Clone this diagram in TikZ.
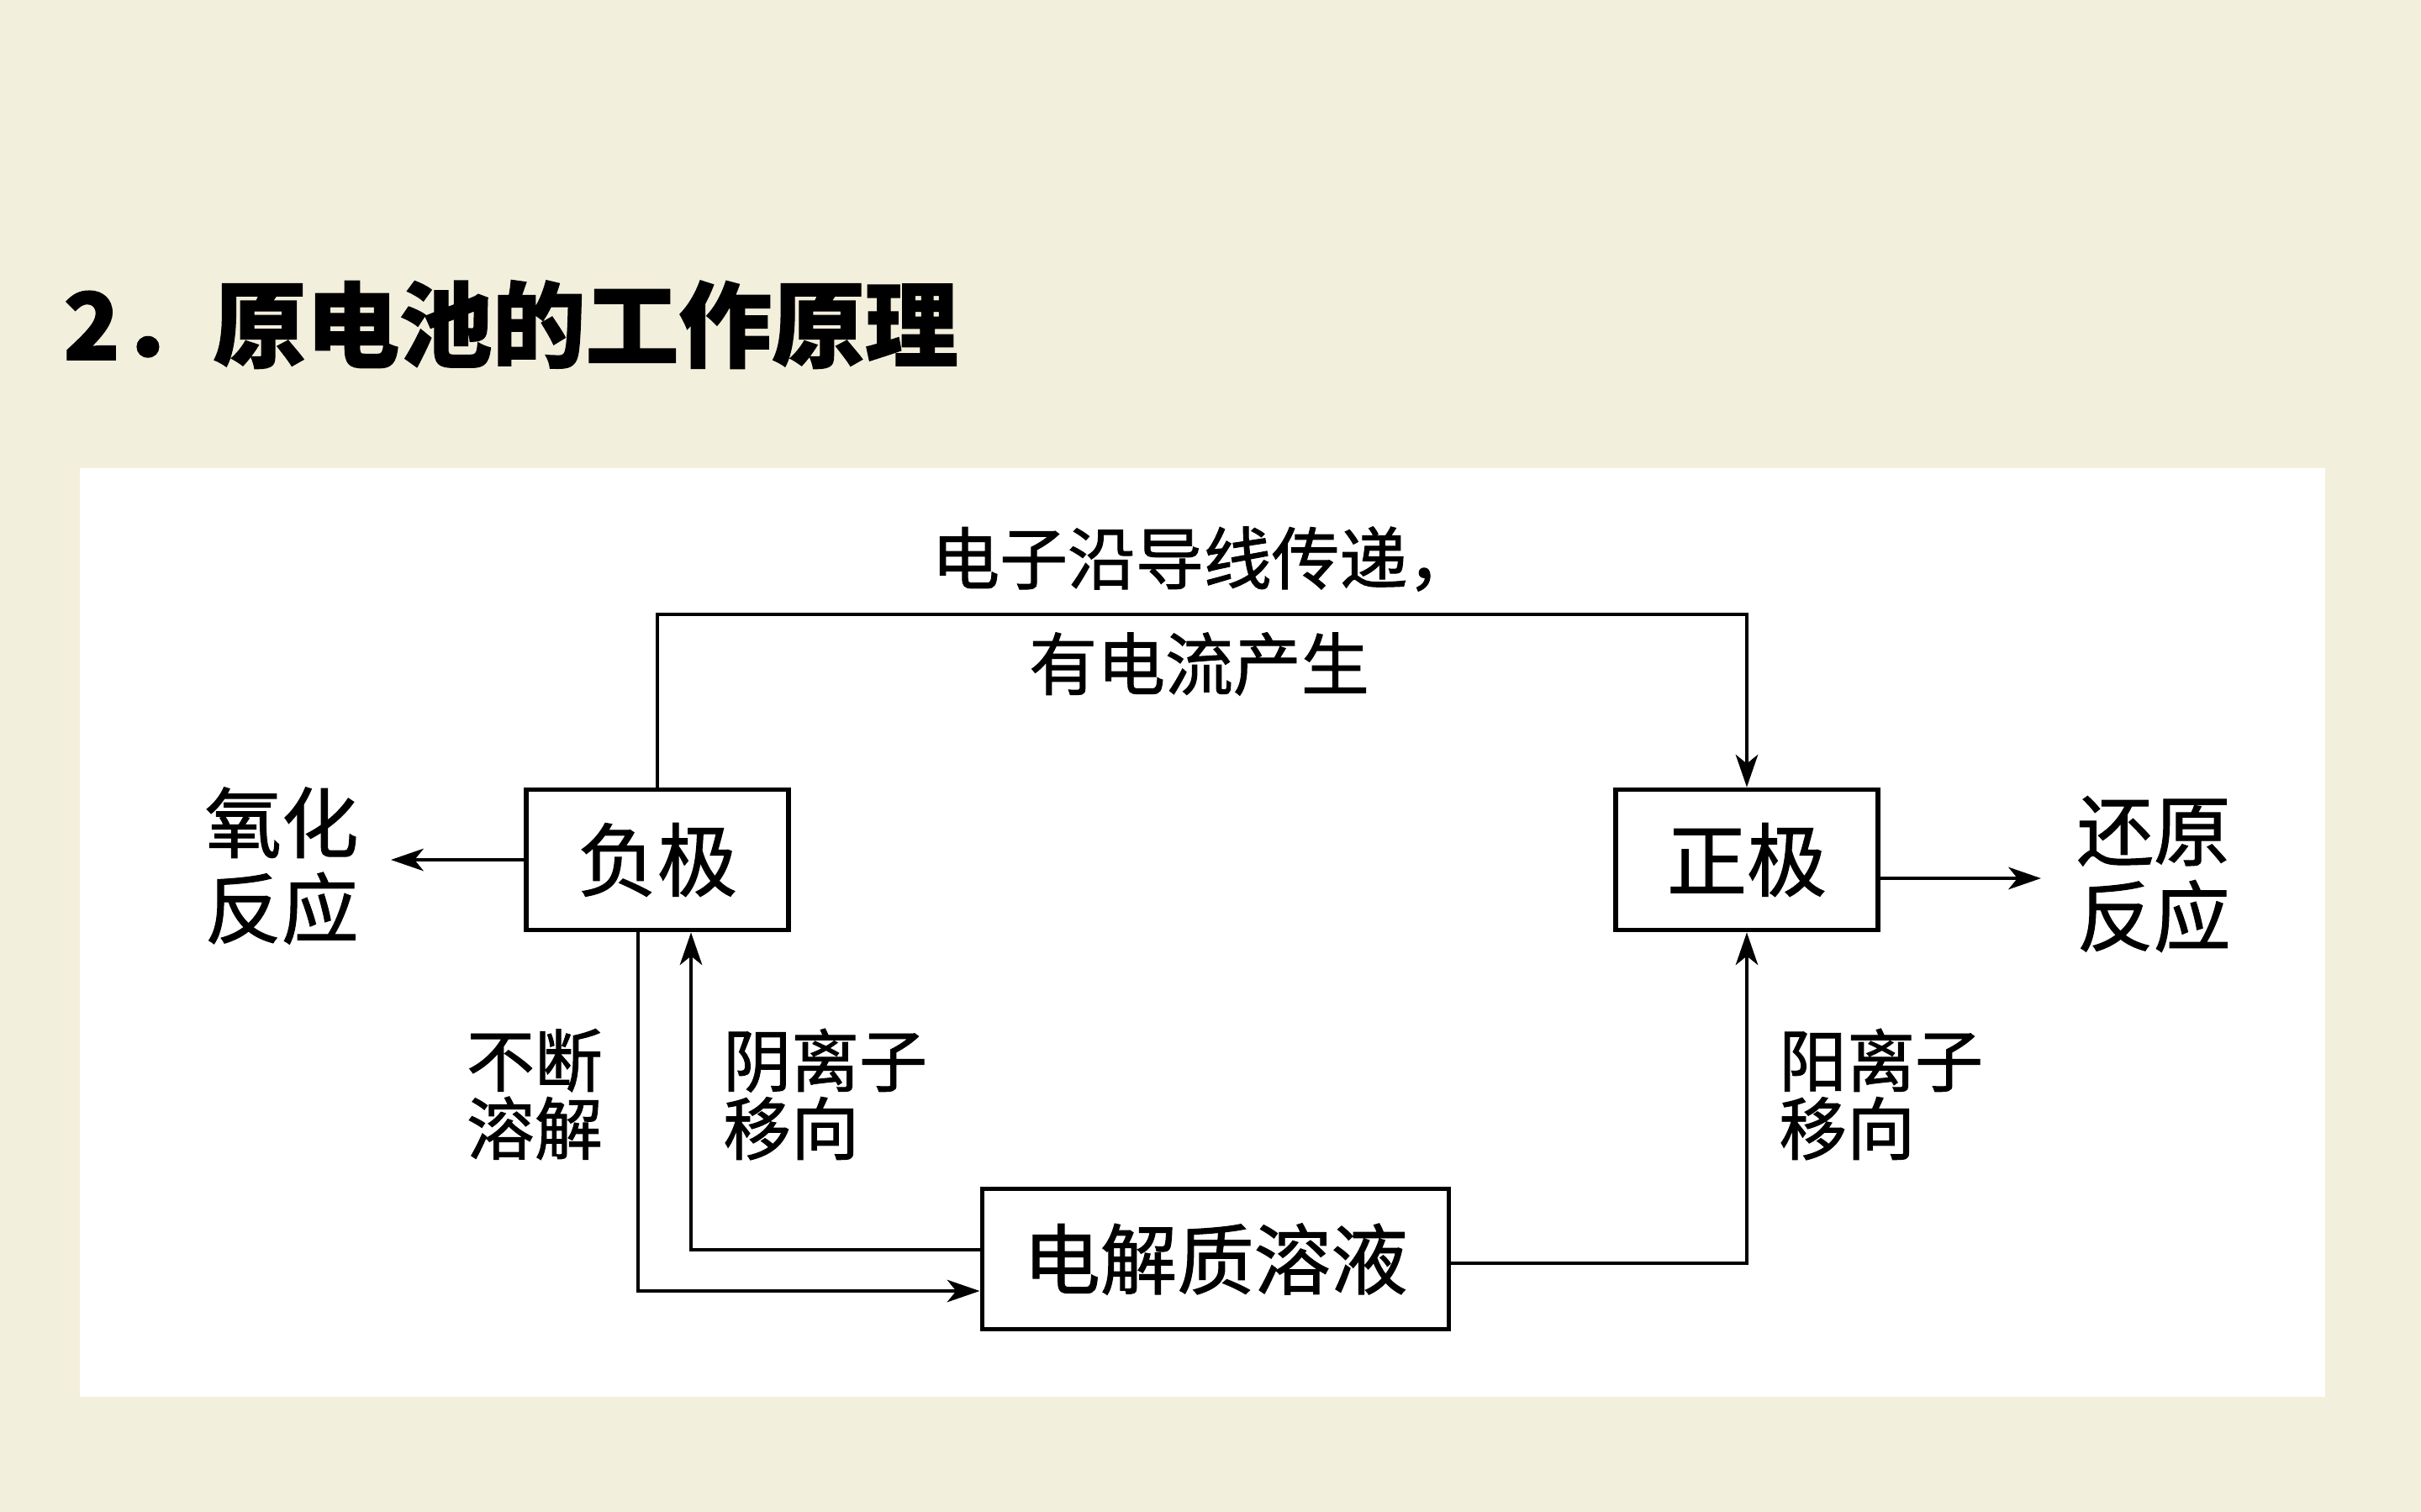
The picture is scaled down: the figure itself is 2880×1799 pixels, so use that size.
\documentclass[tikz,border=0pt]{standalone}
\usepackage{fontspec}
\setmainfont{Noto Sans CJK SC}[FakeBold=1.2]
\usetikzlibrary{arrows.meta}
\definecolor{paper}{RGB}{243,239,221}

\begin{document}
\begin{tikzpicture}[x=0.01cm,y=-0.01cm,->,>={Stealth[length=11pt,width=7.5pt,inset=3pt]},line width=1.3pt,
    pole node/.style={rectangle,draw,line width=1.6pt,minimum width=3.12cm,minimum height=1.67cm,font=\fontsize{27}{27}\selectfont},
    side text/.style={inner sep=0pt,align=center,font=\fontsize{26}{29}\selectfont},
    ion text/.style={inner sep=0pt,align=left,font=\fontsize{23}{23}\selectfont}]
    \useasboundingbox (0,0) rectangle (2880,1799);
    \fill[paper] (0,0) rectangle (2880,1799);
    \fill[white] (95,557) rectangle (2766,1662);

    \node[anchor=west,inner sep=0pt,font=\fontsize{31.5}{31.5}\selectfont\bfseries] (title) at (73,386) {2．原电池的工作原理};

    \node[pole node] (fu) at (782,1023) {负极};
    \node[pole node] (zheng) at (2078,1023) {正极};
    \node[pole node,minimum width=5.55cm,font=\fontsize{26}{26}\selectfont] (ye) at (1446,1498) {电解质溶液};

    \node[side text] (ox) at (335,1030) {氧化\\反应};
    \node[side text] (red) at (2562,1040) {还原\\反应};
    \node[ion text,anchor=west] (wire1) at (1106,665) {电子沿导线传递，};
    \node[ion text,anchor=west] (wire2) at (1222,790) {有电流产生};
    \node[ion text,align=center] (diss) at (636,1302) {不断\\溶解};
    \node[ion text,anchor=west] (anion) at (858,1302) {阴离子\\移向};
    \node[ion text,anchor=west] (cation) at (2114,1302) {阳离子\\移向};

    \coordinate (wire) at (0,731);
    \coordinate (oxtip) at (465,1023);
    \coordinate (redtip) at (2428,1045);

    \draw (fu.north) |- (wire -| zheng.north) -- (zheng.north);
    \draw (fu.west) -- (oxtip);
    \draw (zheng.east |- redtip) -- (redtip);
    \draw ([xshift=-0.23cm]fu.south) |- ([yshift=-0.38cm]ye.west);
    \draw ([yshift=0.11cm]ye.west) -| ([xshift=0.4cm]fu.south);
    \draw ([yshift=-0.05cm]ye.east) -| (zheng.south);
\end{tikzpicture}
\end{document}
